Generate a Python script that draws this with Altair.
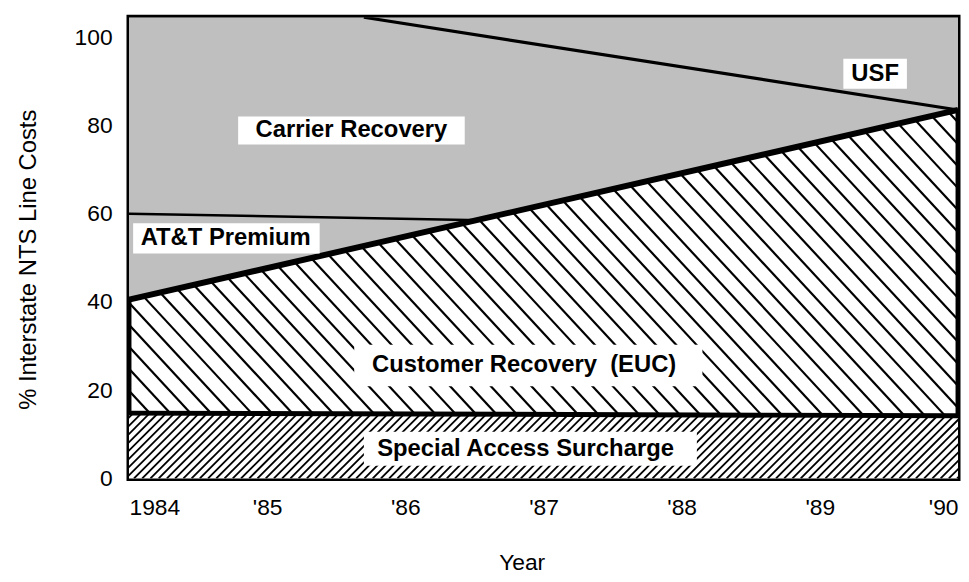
import json
import altair as alt
import pandas as pd

# ---------------- data (cumulative band boundaries, % of interstate NTS line costs)
end_years = [1984, 1990]
special_access_top = [14.8, 14.2]        # Special Access Surcharge
customer_recovery_top = [40.5, 83.5]     # Customer Recovery (EUC)
att_years = [1984, 1986.55]
att_premium_top = [60.0, 58.5]           # AT&T Premium
usf_years = [1985.7, 1990]
usf_lower = [104.5, 83.5]                # top of Carrier Recovery / bottom of USF
chart_top = 104.5

tick_years = [1984, 1985, 1986, 1987, 1988, 1989, 1990]
tick_labels = ["1984", "'85", "'86", "'87", "'88", "'89", "'90"]
y_ticks = [0, 20, 40, 60, 80, 100]

label_text = ["Carrier Recovery", "USF", "AT&T Premium",
              "Customer Recovery\u00a0 (EUC)", "Special Access Surcharge"]
label_x = [1985.61, 1989.40, 1984.70, 1986.86, 1986.87]
label_y = [78.9, 91.7, 54.4, 25.8, 6.7]
box_x0 = [1984.79, 1989.17, 1984.03, 1985.63, 1985.70]
box_x1 = [1986.43, 1989.63, 1985.38, 1988.15, 1988.11]
box_y0 = [75.7, 88.3, 51.0, 20.9, 2.9]
box_y1 = [82.0, 95.1, 57.8, 30.3, 10.6]

# ---------------- layout
W, H = 836, 465
px_year = W / 6.0
px_unit = H / chart_top
FONT = "Liberation Sans"

xs = alt.Scale(domain=[1984, 1990], nice=False, zero=False)
ys = alt.Scale(domain=[0, chart_top], nice=False)

label_expr = "%s[indexof(%s, datum.value)]" % (json.dumps(tick_labels), json.dumps(tick_years))
x_axis = alt.Axis(values=tick_years, labelExpr=label_expr, title="Year", grid=False,
                  domain=False, ticks=False, tickSize=0, labelPadding=18,
                  labelFontSize=23, labelFont=FONT, labelColor="black", labelOverlap=False,
                  labelFlush=True, titleFont=FONT, titleFontSize=23, titleFontWeight="normal",
                  titleColor="black", titleX=396, titleY=85, titleBaseline="middle")
y_axis = alt.Axis(values=y_ticks, title="% Interstate NTS Line Costs", grid=False,
                  domain=False, ticks=False, tickSize=0, labelPadding=17,
                  labelFontSize=23, labelFont=FONT, labelColor="black", labelFlush=False,
                  labelOverlap=False, titleFont=FONT, titleFontSize=24,
                  titleFontWeight="normal", titleColor="black", titleX=-101, titleY=244,
                  titleBaseline="middle")


def X(field):
    return alt.X(field, scale=xs, axis=x_axis)


def Y(field):
    return alt.Y(field, scale=ys, axis=y_axis)


# ---- hatch for Customer Recovery ("\" lines) over the whole plot; covered later
s_euc = 20.5 / px_year
dx_euc = (H / 1.08) / px_year
hatch_euc = alt.Chart(alt.sequence(0, 70, as_="i")).transform_calculate(
    xb=f"1984 + datum.i * {s_euc}",
    xt=f"datum.xb - {dx_euc}",
    yb="0",
    yt=f"{chart_top}",
).mark_rule(clip=True, color="black", strokeWidth=2.2).encode(
    x=X("xb:Q"), x2="xt:Q", y=Y("yb:Q"), y2="yt:Q",
)

euc_df = pd.DataFrame({"year": end_years, "euc": customer_recovery_top,
                       "cap": [chart_top] * len(end_years)})
gray_above = alt.Chart(euc_df).mark_area(color="#bfbfbf", opacity=1, clip=True).encode(
    x=X("year:Q"), y=Y("euc:Q"), y2="cap:Q",
)

sas_df = pd.DataFrame({"year": end_years, "sas": special_access_top,
                       "zero": [0] * len(end_years)})
sas_fill = alt.Chart(sas_df).mark_area(color="white", opacity=1).encode(
    x=X("year:Q"), y=Y("sas:Q"), y2="zero:Q",
)

# ---- hatch for Special Access Surcharge ("/" lines)
s_sas = 8.3 / px_year
k_sas = px_unit / px_year / 1.0
s0, s1 = special_access_top
hatch_sas = alt.Chart(alt.sequence(0, 120, as_="i")).transform_calculate(
    xb=f"1983.5 + datum.i * {s_sas}",
    yb="0",
).transform_calculate(
    yt=f"{s0} + ({s1} - {s0}) * (datum.xb - 1984) / 6",
).transform_calculate(
    xt=f"datum.xb + datum.yt * {k_sas}",
).mark_rule(clip=True, color="black", strokeWidth=1.8).encode(
    x=X("xb:Q"), x2="xt:Q", y=Y("yb:Q"), y2="yt:Q",
)


# ---- boundary lines
def bline(years, vals, width):
    df = pd.DataFrame({"year": years, "v": vals})
    return alt.Chart(df).mark_line(color="black", strokeWidth=width, clip=True).encode(
        x=X("year:Q"), y=Y("v:Q"),
    )


sas_line = bline(end_years, special_access_top, 5)
euc_line = bline(end_years, customer_recovery_top, 6)
att_line = bline(att_years, att_premium_top, 2.5)
usf_line = bline(usf_years, usf_lower, 3.2)

# ---- labels with white boxes
lab_df = pd.DataFrame({"t": label_text, "x": label_x, "y": label_y,
                       "x0": box_x0, "x1": box_x1, "y0": box_y0, "y1": box_y1})
boxes = alt.Chart(lab_df).mark_rect(color="white", opacity=1).encode(
    x=X("x0:Q"), x2="x1:Q", y=Y("y0:Q"), y2="y1:Q",
)
texts = alt.Chart(lab_df).mark_text(font=FONT, fontSize=24, fontWeight="bold",
                                    color="black", baseline="middle", align="center").encode(
    x=X("x:Q"), y=Y("y:Q"), text="t:N",
)

chart = alt.layer(
    hatch_euc, gray_above, sas_fill, hatch_sas,
    att_line, usf_line, sas_line, euc_line, boxes, texts,
).properties(
    width=W, height=H,
    padding={"left": 122, "top": 7, "right": 3, "bottom": 94},
    autosize=alt.AutoSizeParams(type="none"),
    background="white",
).configure_view(stroke="black", strokeWidth=5, fill="white")

chart.save("out.html", embed_options={"renderer": "svg", "actions": False})
